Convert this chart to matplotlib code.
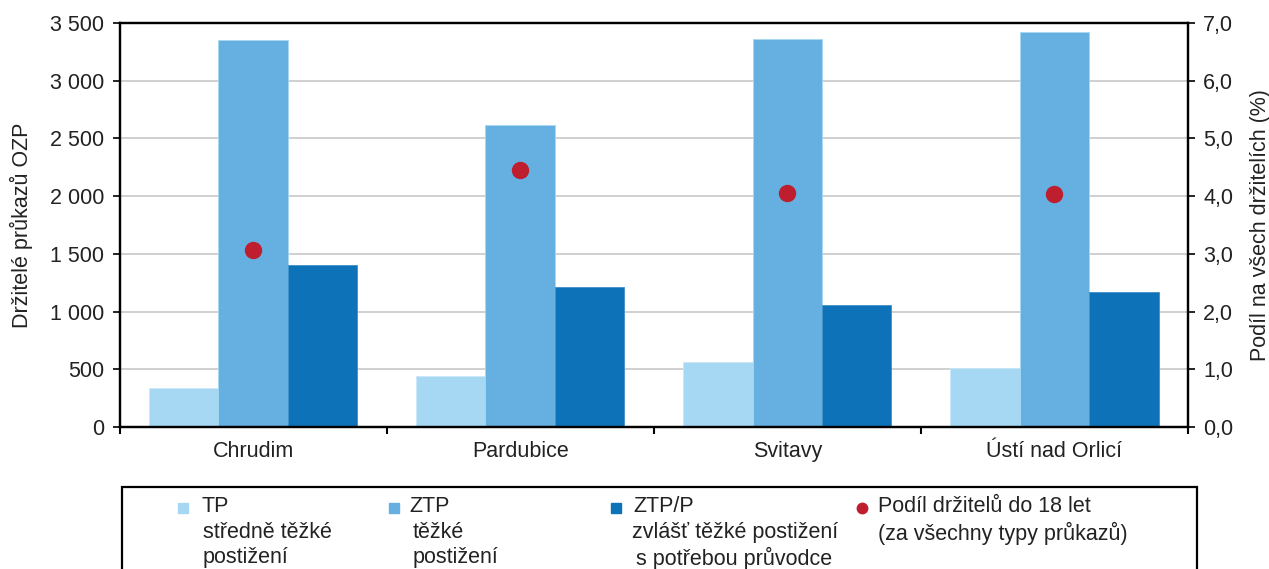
import numpy as np
import matplotlib
matplotlib.use("Agg")
from matplotlib import pyplot as plt
from matplotlib.patches import Rectangle
from matplotlib.lines import Line2D
from matplotlib.ticker import FuncFormatter

plt.rcParams['font.family'] = ['Liberation Sans', 'DejaVu Sans']

# data
okresy = ["Chrudim", "Pardubice", "Svitavy", "Ústí nad Orlicí"]
tp = [338, 442, 560, 511]
ztp = [3350, 2619, 3361, 3419]
ztpp = [1400, 1216, 1054, 1169]
podil = [3.06, 4.45, 4.05, 4.04]

c_tp = '#a6d8f3'
c_ztp = '#65b0e0'
c_ztpp = '#0e72b9'
c_dot = '#be1e2d'

W, H = 1269, 569
fig = plt.figure(figsize=(W / 100, H / 100), dpi=100)
ax = fig.add_axes([119.5 / W, 1 - 427 / H, (1188 - 119.5) / W, (427 - 23) / H])

x = np.arange(len(okresy))
w = 0.26
ax.bar(x - w, tp, w, color=c_tp, edgecolor='#c9e8f8', linewidth=0.6, zorder=2)
ax.bar(x, ztp, w, color=c_ztp, edgecolor='#a6d8f3', linewidth=0.6, zorder=2)
ax.bar(x + w, ztpp, w, color=c_ztpp, edgecolor='#3f8fc8', linewidth=0.6, zorder=2)

ax.set_xlim(-0.5, len(okresy) - 0.5)
ax.set_ylim(0, 3500)
ax.set_yticks(np.arange(0, 3501, 500))
ax.yaxis.set_major_formatter(FuncFormatter(lambda v, p: f"{int(v):,}".replace(",", " ")))
ax.grid(axis='y', color='#c8c8c8', linewidth=1.2, zorder=0)
ax.set_axisbelow(True)

ax.set_xticks(np.arange(len(okresy) + 1) - 0.5)
ax.set_xticklabels([])
ax.set_xticks(x, minor=True)
ax.set_xticklabels(okresy, minor=True, fontsize=15.5, color='#222222')
ax.tick_params(axis='x', which='minor', length=0, pad=10)
ax.tick_params(axis='x', which='major', length=5, width=1.5, direction='out')
ax.tick_params(axis='y', length=5, width=1.2, direction='out', labelsize=15.5, labelcolor='#222222', pad=6)
ax.set_ylabel("Držitelé průkazů OZP", fontsize=15.5, color='#222222', labelpad=12)
for s in ax.spines.values():
    s.set_linewidth(1.6)

ax2 = ax.twinx()
ax2.plot(x, podil, 'o', color=c_dot, markersize=11.5, zorder=5)
ax2.set_ylim(0, 7)
ax2.set_yticks(np.arange(0, 7.1, 1))
ax2.yaxis.set_major_formatter(FuncFormatter(lambda v, p: f"{v:.1f}".replace(".", ",")))
ax2.tick_params(axis='y', length=5, width=1.2, direction='out', labelsize=15.5, labelcolor='#222222', pad=6)
ax2.set_ylabel("Podíl na všech držitelích (%)", fontsize=15.5, color='#222222', labelpad=12)
for s in ax2.spines.values():
    s.set_linewidth(1.6)

# legend box (cut off at the bottom like the original)
def fx(px):
    return px / W

def fy(py):
    return 1 - py / H

fig.patches.append(Rectangle((fx(122), fy(600)), fx(1197) - fx(122), fy(487) - fy(600),
                             transform=fig.transFigure, fill=False, edgecolor='black',
                             linewidth=1.6))

fs = 15.5
items = [
    (c_tp, 183, ["TP", "středně těžké", "postižení"], [202, 203, 203]),
    (c_ztp, 394, ["ZTP", "těžké", "postižení"], [409, 413, 413]),
    (c_ztpp, 616, ["ZTP/P", "zvlášť těžké postižení", "s potřebou průvodce"], [633, 632, 636]),
]
for col, mx, lines, xs in items:
    fig.patches.append(Rectangle((fx(mx - 5), fy(513)), 10 / W, 10 / H,
                                 transform=fig.transFigure, color=col))
    for i, (t, tx) in enumerate(zip(lines, xs)):
        fig.text(fx(tx), fy(507 + i * 25.5), t, fontsize=fs, color='#222222', va='center')

fig.add_artist(Line2D([fx(862)], [fy(508)], marker='o', color=c_dot, markersize=7.5,
                      transform=fig.transFigure))
fig.text(fx(878), fy(507), "Podíl držitelů do 18 let", fontsize=fs, color='#222222', va='center')
fig.text(fx(878), fy(533), "(za všechny typy průkazů)", fontsize=fs, color='#222222', va='center')

fig.savefig("out.png", dpi=100)
